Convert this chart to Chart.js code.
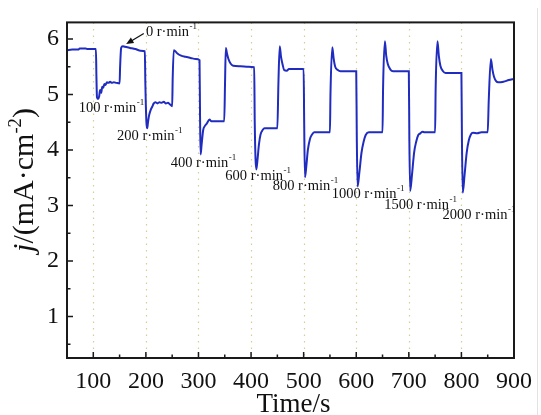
<!DOCTYPE html>
<html>
<head>
<meta charset="utf-8">
<script src="https://cdn.jsdelivr.net/npm/chart.js@4/dist/chart.umd.min.js"></script>
<style>
  html, body { margin: 0; padding: 0; background: #fff; }
  #wrap { width: 541px; height: 415px; }
</style>
</head>
<body>
<div id="wrap"><canvas id="chart" width="541" height="415"></canvas></div>
<script>
// time (s) and current density (mA/cm2)
const timeValues = [
  50, 60, 72, 74, 86, 88, 105,
  106, 107, 109, 111, 113, 115, 117, 119, 121, 123, 126, 129, 132, 135, 139, 144, 150,
  151, 153, 156, 160, 170, 180, 190, 198,
  199, 201, 202.5, 204, 206, 209, 212, 215, 218, 222, 226, 230, 234, 238, 242, 246, 250,
  251, 253, 256, 260, 267, 275, 285, 295, 302,
  303, 304, 306, 309, 312, 316, 321, 324, 335, 349,
  350.5, 352, 354, 357, 361, 366, 380, 395, 406,
  407, 410, 412, 415, 418, 422, 426, 435, 450,
  452, 454.5, 457, 460, 463, 468, 472, 485, 500,
  501, 502.5, 505, 508, 512, 516, 520, 535, 550,
  551, 554.5, 557, 560, 565, 570, 585, 600,
  601, 602.5, 606, 610, 614, 618, 624, 640, 650,
  651, 654.5, 657, 660, 665, 670, 685, 700,
  701, 702.5, 706, 710, 714, 718, 722, 726, 730, 750,
  751, 754.5, 757, 760, 765, 770, 785, 800,
  801, 802.5, 806, 810, 814, 818, 822, 830, 838, 850,
  852, 856, 859, 862, 866, 870, 880, 890, 900
];
const currentValues = [
  5.80, 5.81, 5.81, 5.83, 5.83, 5.82, 5.82,
  5.30, 4.95, 4.92, 4.96, 5.08, 5.03, 5.14, 5.12, 5.19, 5.17, 5.22, 5.21, 5.23, 5.21, 5.22, 5.21, 5.20,
  5.50, 5.84, 5.87, 5.86, 5.84, 5.82, 5.79, 5.78,
  5.20, 4.50, 4.39, 4.50, 4.62, 4.72, 4.78, 4.84, 4.86, 4.84, 4.86, 4.85, 4.87, 4.84, 4.85, 4.82, 4.79,
  5.30, 5.80, 5.78, 5.74, 5.70, 5.68, 5.66, 5.64, 5.62,
  4.60, 3.92, 4.10, 4.36, 4.43, 4.48, 4.55, 4.52, 4.52, 4.52,
  5.20, 5.84, 5.75, 5.64, 5.56, 5.52, 5.51, 5.50, 5.49,
  4.50, 3.65, 3.80, 4.10, 4.28, 4.36, 4.39, 4.39, 4.39,
  5.20, 5.87, 5.68, 5.54, 5.44, 5.43, 5.46, 5.46, 5.46,
  4.50, 3.51, 3.70, 4.00, 4.20, 4.28, 4.32, 4.32, 4.32,
  5.00, 5.85, 5.65, 5.50, 5.44, 5.42, 5.42, 5.42,
  4.30, 3.34, 3.60, 3.95, 4.15, 4.27, 4.32, 4.32, 4.32,
  5.10, 5.96, 5.70, 5.55, 5.45, 5.42, 5.42, 5.42,
  4.20, 3.26, 3.55, 3.95, 4.15, 4.27, 4.30, 4.33, 4.32, 4.32,
  5.10, 5.96, 5.70, 5.52, 5.42, 5.39, 5.39, 5.39,
  4.20, 3.23, 3.55, 3.95, 4.17, 4.28, 4.31, 4.30, 4.32, 4.32,
  4.90, 5.64, 5.45, 5.32, 5.24, 5.22, 5.23, 5.26, 5.28
];

const xTicks = [100, 200, 300, 400, 500, 600, 700, 800, 900];
const xMinorTicks = [150, 250, 350, 450, 550, 650, 750, 850];
const yTicks = [1, 2, 3, 4, 5, 6];
const yMinorTicks = [0.5, 1.5, 2.5, 3.5, 4.5, 5.5];
const dottedLines = [100, 200, 300, 400, 500, 600, 700, 800];

// speed labels: text, centre x, centre y (data units)
const speedLabels = ['100', '200', '400', '600', '800', '1000', '1500', '2000'];
const speedLabelX = [134, 207, 309, 413, 503, 622, 722, 833];
const speedLabelY = [4.75, 4.25, 3.76, 3.53, 3.34, 3.21, 3.01, 2.83];
// the "0 r·min-1" label with its arrow
const zeroLabel = { text: '0', x: 200, y: 6.12, arrowFrom: [196, 6.10], arrowTo: [162.5, 5.91] };

const serif = '"Liberation Serif", "Times New Roman", serif';

function drawRpm(ctx, num, cx, cy, size, align) {
  const main = num + ' r\u00b7min';
  ctx.font = size + 'px ' + serif;
  const w1 = ctx.measureText(main).width;
  ctx.font = (size * 0.62) + 'px ' + serif;
  const w2 = ctx.measureText('-1').width;
  let x = align === 'left' ? cx : cx - (w1 + w2) / 2;
  ctx.textAlign = 'left';
  ctx.textBaseline = 'middle';
  ctx.font = size + 'px ' + serif;
  ctx.fillText(main, x, cy);
  ctx.font = (size * 0.62) + 'px ' + serif;
  ctx.fillText('-1', x + w1 + 0.5, cy - size * 0.38);
}

const decor = {
  id: 'decor',
  beforeDatasetsDraw(chart) {
    const { ctx, chartArea: a, scales: { x } } = chart;
    ctx.save();
    ctx.strokeStyle = '#d8cc98';
    ctx.lineWidth = 1.2;
    ctx.setLineDash([1.5, 5]);
    dottedLines.forEach(v => {
      const px = Math.round(x.getPixelForValue(v)) + 0.5;
      ctx.beginPath();
      ctx.moveTo(px, a.top);
      ctx.lineTo(px, a.bottom);
      ctx.stroke();
    });
    ctx.restore();
  },
  afterDraw(chart) {
    const { ctx, chartArea: a, scales: { x, y } } = chart;
    ctx.save();
    // faint edge line at the right of the picture
    ctx.strokeStyle = '#e2e2e2';
    ctx.lineWidth = 1;
    ctx.beginPath();
    ctx.moveTo(537.5, 8);
    ctx.lineTo(537.5, 415);
    ctx.stroke();
    // frame
    ctx.strokeStyle = '#1a1a1a';
    ctx.lineWidth = 2;
    ctx.strokeRect(a.left, a.top, a.right - a.left, a.bottom - a.top);
    // inward ticks
    ctx.lineWidth = 1.5;
    ctx.beginPath();
    xTicks.forEach(v => { const p = x.getPixelForValue(v); ctx.moveTo(p, a.bottom); ctx.lineTo(p, a.bottom - 6); });
    xMinorTicks.forEach(v => { const p = x.getPixelForValue(v); ctx.moveTo(p, a.bottom); ctx.lineTo(p, a.bottom - 3.5); });
    yTicks.forEach(v => { const p = y.getPixelForValue(v); ctx.moveTo(a.left, p); ctx.lineTo(a.left + 6, p); });
    yMinorTicks.forEach(v => { const p = y.getPixelForValue(v); ctx.moveTo(a.left, p); ctx.lineTo(a.left + 3.5, p); });
    ctx.stroke();

    // axis titles
    ctx.fillStyle = '#111';
    ctx.textBaseline = 'alphabetic';
    ctx.textAlign = 'center';
    ctx.font = '27px ' + serif;
    ctx.fillText('Time/s', (a.left + a.right) / 2 + 3, 412);

    ctx.save();
    ctx.translate(33, 180);
    ctx.rotate(-Math.PI / 2);
    const size = 30;
    const parts = [
      { t: 'j', f: 'italic ' + size + 'px ' + serif, dy: 0 },
      { t: '/(mA\u00b7cm', f: size + 'px ' + serif, dy: 0 },
      { t: '-2', f: (size * 0.62) + 'px ' + serif, dy: -size * 0.4 },
      { t: ')', f: size + 'px ' + serif, dy: 0 }
    ];
    let total = 0;
    parts.forEach(p => { ctx.font = p.f; p.w = ctx.measureText(p.t).width; total += p.w; });
    let cx = -total / 2;
    ctx.textAlign = 'left';
    parts.forEach(p => { ctx.font = p.f; ctx.fillText(p.t, cx, p.dy); cx += p.w; });
    ctx.restore();

    // speed labels
    ctx.fillStyle = '#111';
    speedLabels.forEach((s, i) => {
      drawRpm(ctx, s, x.getPixelForValue(speedLabelX[i]), y.getPixelForValue(speedLabelY[i]), 14.5, 'center');
    });
    drawRpm(ctx, zeroLabel.text, x.getPixelForValue(zeroLabel.x), y.getPixelForValue(zeroLabel.y), 14.5, 'left');

    // arrow
    const x1 = x.getPixelForValue(zeroLabel.arrowFrom[0]), y1 = y.getPixelForValue(zeroLabel.arrowFrom[1]);
    const x2 = x.getPixelForValue(zeroLabel.arrowTo[0]), y2 = y.getPixelForValue(zeroLabel.arrowTo[1]);
    const ang = Math.atan2(y2 - y1, x2 - x1);
    ctx.strokeStyle = '#111';
    ctx.lineWidth = 1.3;
    ctx.beginPath();
    ctx.moveTo(x1, y1);
    ctx.lineTo(x2 - 5 * Math.cos(ang), y2 - 5 * Math.sin(ang));
    ctx.stroke();
    ctx.beginPath();
    ctx.moveTo(x2, y2);
    ctx.lineTo(x2 - 8 * Math.cos(ang - 0.4), y2 - 8 * Math.sin(ang - 0.4));
    ctx.lineTo(x2 - 8 * Math.cos(ang + 0.4), y2 - 8 * Math.sin(ang + 0.4));
    ctx.closePath();
    ctx.fillStyle = '#111';
    ctx.fill();
    ctx.restore();
  }
};

new Chart(document.getElementById('chart'), {
  type: 'line',
  data: {
    datasets: [{
      data: timeValues.map((t, i) => ({ x: t, y: currentValues[i] })),
      borderColor: '#1f2cbf',
      borderWidth: 2,
      pointRadius: 0,
      cubicInterpolationMode: 'monotone',
      fill: false
    }]
  },
  options: {
    responsive: false,
    animation: false,
    layout: { padding: { top: 15, right: 20, left: 0, bottom: 0 } },
    plugins: { legend: { display: false }, tooltip: { enabled: false } },
    scales: {
      x: {
        type: 'linear',
        min: 50,
        max: 900,
        afterBuildTicks: s => { s.ticks = xTicks.map(v => ({ value: v })); },
        afterFit: s => { s.height = 57; },
        grid: { display: false, drawTicks: false },
        border: { display: false },
        ticks: { padding: 9, color: '#111', font: { family: serif, size: 24 }, maxRotation: 0, autoSkip: false }
      },
      y: {
        min: 0.25,
        max: 6.3,
        afterBuildTicks: s => { s.ticks = yTicks.map(v => ({ value: v })); },
        afterFit: s => { s.width = 67; },
        grid: { display: false, drawTicks: false },
        border: { display: false },
        ticks: { padding: 8, color: '#111', font: { family: serif, size: 24 } }
      }
    }
  },
  plugins: [decor]
});
</script>
</body>
</html>
